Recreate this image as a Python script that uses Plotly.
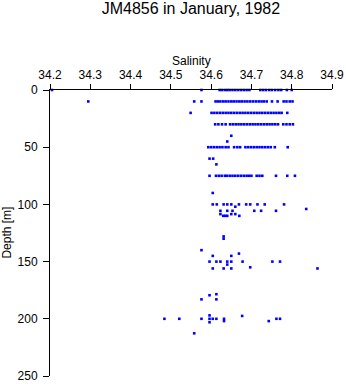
import plotly.graph_objects as go

title_text = "JM4856 in January, 1982"
x_title = "Salinity"
y_title = "Depth [m]"
x_ticks = [34.2, 34.3, 34.4, 34.5, 34.6, 34.7, 34.8, 34.9]
y_ticks = [0, 50, 100, 150, 200, 250]

sal_0 = [34.205, 34.576, 34.621, 34.627, 34.634, 34.640, 34.646, 34.653, 34.660, 34.667, 34.674, 34.681,
         34.688, 34.695, 34.722, 34.729, 34.736, 34.744, 34.751, 34.759, 34.767, 34.774, 34.788, 34.800]
sal_10 = [34.295, 34.558, 34.576, 34.611, 34.617, 34.623, 34.630, 34.636, 34.643, 34.650, 34.656, 34.663,
          34.670, 34.676, 34.683, 34.690, 34.697, 34.704, 34.711, 34.718, 34.725, 34.731, 34.738, 34.751,
          34.765, 34.780, 34.787, 34.795, 34.802]
sal_20 = [34.549, 34.601, 34.608, 34.615, 34.622, 34.629, 34.636, 34.643, 34.650, 34.657, 34.664, 34.671,
          34.678, 34.685, 34.692, 34.699, 34.706, 34.713, 34.720, 34.727, 34.734, 34.741, 34.748, 34.755,
          34.762, 34.769, 34.775, 34.789]
sal_30 = [34.610, 34.618, 34.627, 34.636, 34.647, 34.654, 34.661, 34.668, 34.675, 34.682, 34.689, 34.696,
          34.703, 34.710, 34.717, 34.724, 34.731, 34.738, 34.745, 34.752, 34.759, 34.766, 34.779, 34.787,
          34.795, 34.803]
sal_50 = [34.593, 34.600, 34.607, 34.614, 34.621, 34.628, 34.636, 34.643, 34.657, 34.665, 34.672, 34.685,
          34.692, 34.699, 34.706, 34.713, 34.720, 34.727, 34.734, 34.741, 34.748, 34.758, 34.790]
sal_75 = [34.596, 34.612, 34.619, 34.626, 34.634, 34.639, 34.646, 34.653, 34.660, 34.667, 34.674, 34.681,
          34.688, 34.694, 34.700, 34.713, 34.720, 34.727, 34.761, 34.789, 34.808]
sal_100 = [34.604, 34.614, 34.631, 34.640, 34.650, 34.669, 34.687, 34.697, 34.715, 34.733, 34.781]
sal_106 = [34.623, 34.640, 34.653, 34.707, 34.724, 34.761]
sal_150 = [34.596, 34.613, 34.623, 34.640, 34.650, 34.678, 34.752, 34.771]
sal_200 = [34.484, 34.521, 34.576, 34.596, 34.604, 34.613, 34.632, 34.762, 34.771]

# scattered single observations: (depth, salinity)
other_depth = [40, 45, 60, 60, 65, 90, 102, 104, 108.5, 108.5, 108.5, 110, 110, 110, 110, 128, 130,
               140, 143, 145, 145, 152.6, 155, 156, 156, 156, 156, 178.5, 179.4, 183, 183,
               197.5, 197, 203, 202, 202, 212.7]
other_sal = [34.650, 34.640, 34.596, 34.605, 34.613, 34.604, 34.660, 34.836, 34.623, 34.650, 34.660,
             34.630, 34.635, 34.640, 34.670, 34.631, 34.631, 34.576, 34.669, 34.604, 34.650, 34.640,
             34.697, 34.604, 34.631, 34.650, 34.864, 34.613, 34.596, 34.576, 34.613, 34.677, 34.596,
             34.596, 34.632, 34.743, 34.558]

groups = [(0, sal_0), (10, sal_10), (20, sal_20), (30, sal_30), (50, sal_50), (75, sal_75),
          (100, sal_100), (105.6, sal_106), (150, sal_150), (200, sal_200)]
xs, ys = [], []
for d, vals in groups:
    xs += vals
    ys += [d] * len(vals)
xs += other_sal
ys += other_depth

font = "Liberation Sans, Arial, Helvetica, sans-serif"
fig = go.Figure(go.Scatter(x=xs, y=ys, mode="markers", cliponaxis=False,
                           marker=dict(symbol="square", size=2.6, color="#0000ff", line=dict(width=0)),
                           showlegend=False))

W, H = 346, 384
ml, mr, mt, mb = 49.5, 13.7, 90.4, 8
ph = H - mt - mb
pw = W - ml - mr

fig.update_layout(
    width=W, height=H, margin=dict(l=ml, r=mr, t=mt, b=mb, pad=0, autoexpand=False),
    paper_bgcolor="white", plot_bgcolor="white",
    font=dict(family=font, size=12, color="black"),
    title=dict(text=title_text, x=(ml + pw / 2) / W, xanchor="center", xref="container",
               y=1 - 8.5 / H, yanchor="middle", yref="container",
               font=dict(size=16, family=font, color="black")),
    xaxis=dict(side="top", range=[34.2, 34.9], tickvals=x_ticks, ticktext=[f"{v:.1f}" for v in x_ticks],
               ticks="outside", ticklen=5, tickwidth=1, tickcolor="black", showline=True, linecolor="black",
               linewidth=1, showgrid=False, zeroline=False, tickfont=dict(size=12), automargin=False),
    yaxis=dict(range=[250, 0], tickvals=y_ticks, ticks="outside", ticklen=6, tickwidth=1, tickcolor="black",
               showline=True, linecolor="black", linewidth=1, showgrid=False, zeroline=False,
               tickfont=dict(size=12), automargin=False, ticklabelstandoff=3),
    annotations=[
        dict(text=x_title, xref="paper", yref="paper", x=0.5, y=1 + (mt - 61) / ph, xanchor="center",
             yanchor="middle", showarrow=False, font=dict(size=12)),
        dict(text=y_title, xref="paper", yref="paper", x=(6 - ml) / pw, y=0.5, xanchor="center",
             yanchor="middle", textangle=-90, showarrow=False, font=dict(size=12)),
    ],
)
fig.write_html("out.html")
